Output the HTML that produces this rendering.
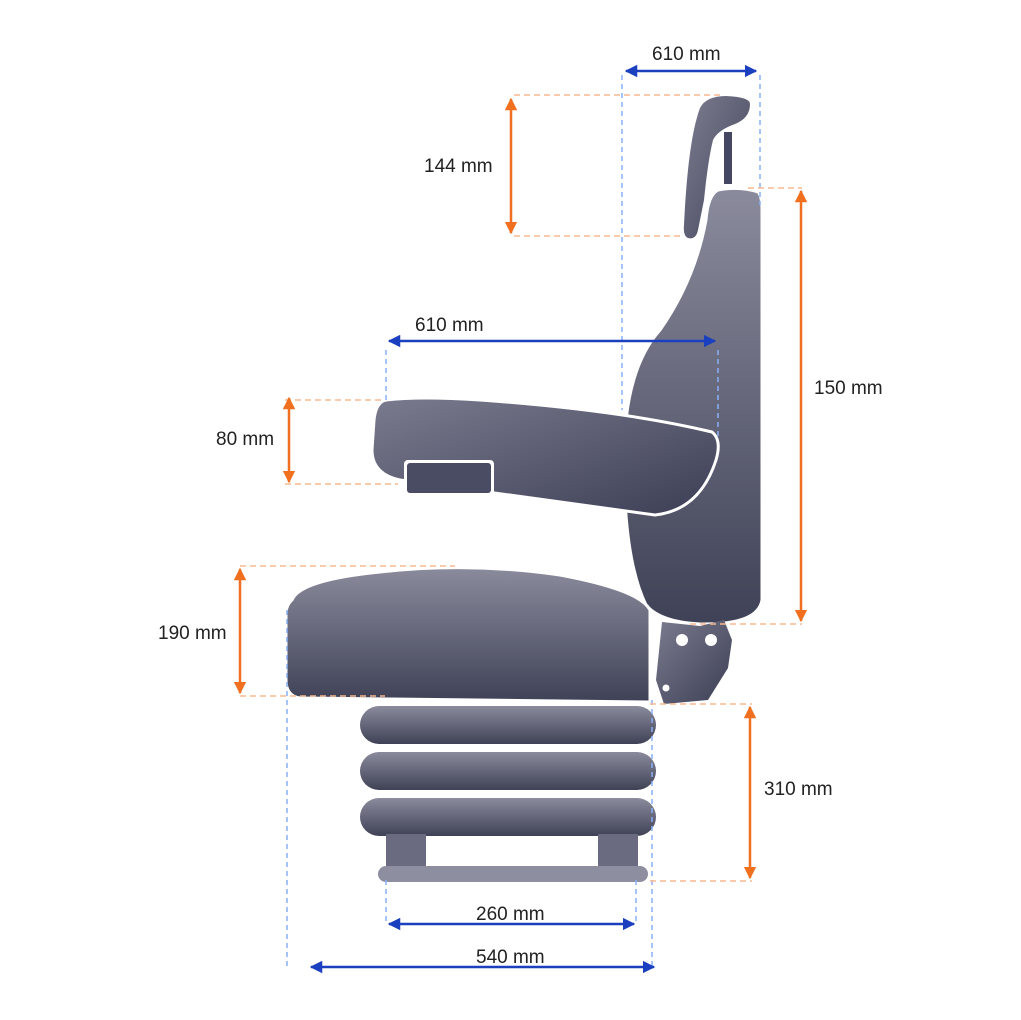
<!DOCTYPE html>
<html><head><style>body{margin:0;background:#fff}svg{display:block}text{font-family:"Liberation Sans",sans-serif;font-size:19px;fill:#222}</style></head>
<body>
<svg width="1021" height="1020" viewBox="0 0 1021 1020" xmlns="http://www.w3.org/2000/svg">
<defs>
<linearGradient id="g" x1="0" y1="0" x2="0" y2="1"><stop offset="0" stop-color="#8a8b9c"/><stop offset="1" stop-color="#3f4156"/></linearGradient>
<linearGradient id="gh" x1="0" y1="0" x2="1" y2="1"><stop offset="0" stop-color="#7d7e90"/><stop offset="1" stop-color="#40425a"/></linearGradient>
<linearGradient id="ga" x1="0" y1="0" x2="1" y2="1"><stop offset="0" stop-color="#7a7b8e"/><stop offset="1" stop-color="#3c3e55"/></linearGradient>
<marker id="ab" viewBox="0 0 10 10" refX="9" refY="5" markerWidth="5" markerHeight="5" orient="auto-start-reverse"><path d="M0,0L10,5L0,10z" fill="#1a3fbf"/></marker>
<marker id="ao" viewBox="0 0 10 10" refX="9" refY="5" markerWidth="5" markerHeight="5" orient="auto-start-reverse"><path d="M0,0L10,5L0,10z" fill="#f07020"/></marker>
</defs>
<!-- headrest -->
<path d="M700,108 Q706,96 726,96 Q750,97 750,104 Q750,118 735,124 Q718,130 713,140 Q708,160 704,200 L698,230 Q696,240 688,238 Q683,236 684,225 Q688,140 700,108z" fill="url(#gh)"/>
<rect x="724" y="132" width="8" height="52" fill="#454760"/>
<!-- backrest -->
<path d="M718,190 Q740,186 758,192 Q762,196 762,210 L762,600 Q758,625 700,624 Q660,622 646,605 Q624,560 624,460 Q624,370 660,330 Q695,280 706,220 Q708,195 718,190z" fill="url(#g)" stroke="#fff" stroke-width="3"/>
<!-- bracket -->
<path d="M662,622 L700,626 L724,620 L732,640 L728,668 L718,684 L708,700 L664,704 L656,680 Z" fill="url(#ga)"/>
<circle cx="682" cy="640" r="6" fill="#fff"/><circle cx="711" cy="640" r="6" fill="#fff"/><circle cx="666" cy="688" r="3.5" fill="#fff"/>
<!-- armrest -->
<path d="M386,400 Q420,396 480,400 Q620,410 712,432 Q722,440 716,460 Q700,510 655,515 L400,480 Q372,474 372,450 L374,420 Q376,402 386,400z" fill="url(#ga)" stroke="#fff" stroke-width="3"/>
<rect x="404" y="460" width="90" height="36" rx="4" fill="#fff"/>
<rect x="407" y="463" width="84" height="30" rx="3" fill="#4a4c63"/>
<!-- seat -->
<path d="M292,600 Q300,580 380,572 Q470,562 560,575 Q640,590 650,610 L650,702 L300,698 Q286,696 286,680 L286,612 Q287,604 292,600z" fill="url(#g)" stroke="#fff" stroke-width="3"/>
<!-- bellows -->
<rect x="360" y="706" width="296" height="38" rx="19" fill="url(#g)"/>
<rect x="360" y="752" width="296" height="38" rx="19" fill="url(#g)"/>
<rect x="360" y="798" width="296" height="38" rx="19" fill="url(#g)"/>
<rect x="386" y="834" width="40" height="34" fill="#6a6b80"/><rect x="598" y="834" width="40" height="34" fill="#6a6b80"/>
<rect x="378" y="866" width="270" height="16" rx="8" fill="#8d8ea0"/>
<!-- dashed guides -->
<g stroke="#8ab0f8" stroke-width="1.5" stroke-dasharray="5,4" fill="none">
<path d="M622,75V410M760,75V205M386,350V400M718,350V440M287,610V968M652,700V968M386,880V925M636,880V925"/>
</g>
<g stroke="#f8b890" stroke-width="1.5" stroke-dasharray="6,4" fill="none">
<path d="M514,95H722M514,236H684M748,188H802M285,400H385M285,484H398M240,566H455M240,696H385M690,624H802M650,704H752M650,881H752"/>
</g>
<!-- dims -->
<g stroke="#1a3fbf" stroke-width="2.5">
<line x1="626" y1="71" x2="756" y2="71" marker-start="url(#ab)" marker-end="url(#ab)"/>
<line x1="389" y1="341" x2="715" y2="341" marker-start="url(#ab)" marker-end="url(#ab)"/>
<line x1="389" y1="924" x2="634" y2="924" marker-start="url(#ab)" marker-end="url(#ab)"/>
<line x1="311" y1="967" x2="654" y2="967" marker-start="url(#ab)" marker-end="url(#ab)"/>
</g>
<g stroke="#f07020" stroke-width="2.5">
<line x1="511" y1="99" x2="511" y2="233" marker-start="url(#ao)" marker-end="url(#ao)"/>
<line x1="801" y1="191" x2="801" y2="621" marker-start="url(#ao)" marker-end="url(#ao)"/>
<line x1="289" y1="398" x2="289" y2="482" marker-start="url(#ao)" marker-end="url(#ao)"/>
<line x1="240" y1="569" x2="240" y2="693" marker-start="url(#ao)" marker-end="url(#ao)"/>
<line x1="750" y1="707" x2="750" y2="878" marker-start="url(#ao)" marker-end="url(#ao)"/>
</g>
<text x="652" y="60">610 mm</text>
<text x="424" y="172">144 mm</text>
<text x="415" y="331">610 mm</text>
<text x="814" y="394">150 mm</text>
<text x="216" y="445">80 mm</text>
<text x="158" y="639">190 mm</text>
<text x="764" y="795">310 mm</text>
<text x="476" y="920">260 mm</text>
<text x="476" y="963">540 mm</text>
</svg>
</body></html>
